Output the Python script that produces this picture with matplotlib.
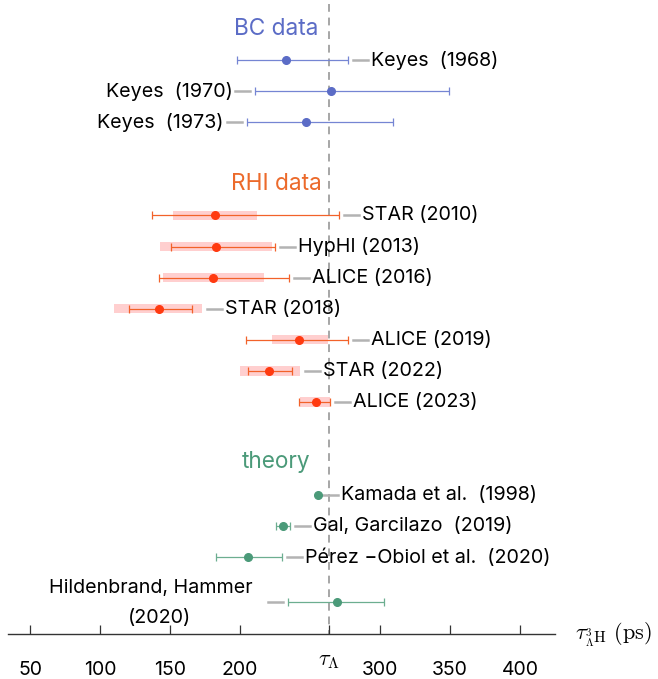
import numpy as np
import matplotlib

matplotlib.use("Agg")
import matplotlib.pyplot as plt

plt.rcParams["font.family"] = ["Inter", "DejaVu Sans"]
plt.rcParams["mathtext.fontset"] = "cm"

# Data (lifetimes in ps)
tau_lambda = 263.5

bc_labels = ["Keyes  (1968)", "Keyes  (1970)", "Keyes  (1973)"]
bc_tau = [233, 265, 247]
bc_lo = [198, 211, 205]
bc_hi = [277, 349, 309]
bc_rows = [1, 2, 3]
bc_side = ["right", "left", "left"]

rhi_labels = [
    "STAR (2010)",
    "HypHI (2013)",
    "ALICE (2016)",
    "STAR (2018)",
    "ALICE (2019)",
    "STAR (2022)",
    "ALICE (2023)",
]
rhi_tau = [182, 183, 181, 142, 242, 221, 254]
rhi_lo = [137, 151, 142, 121, 204, 206, 242]
rhi_hi = [271, 225, 235, 166, 277, 237, 264]
rhi_sys_lo = [152, 143, 145, 110, 223, 200, 243]
rhi_sys_hi = [212, 223, 217, 173, 263, 243, 264]
rhi_rows = [6, 7, 8, 9, 10, 11, 12]

th_labels = [
    "Kamada et al.  (1998)",
    "Gal, Garcilazo  (2019)",
    "Pérez \u2212Obiol et al.  (2020)",
    "Hildenbrand, Hammer",
]
th_tau = [256, 231, 206, 269]
th_lo = [256, 226, 183, 234]
th_hi = [256, 236, 230, 303]
th_rows = [15, 16, 17, 18.44]
th_side = ["right", "right", "right", "left"]

group_titles = ["BC data", "RHI data", "theory"]
group_rows = [0, 5, 13.93]

xticks = [50, 100, 150, 200, 300, 350, 400]

BLUE = "#5b6cc6"
BLUE_LINE = "#7585d3"
ORANGE = "#ec6a2b"
ORANGE_LINE = "#f2622a"
RED = "#ff3a10"
PINK = "#ffcfcf"
GREEN = "#4b9a79"
GREEN_LINE = "#6cae90"
GRAY = "#b3b3b3"

axis_row = 19.475
gap = 3.6  # ps between error bar and gray dash
dash = 10.7  # ps length of gray dash
LABEL_SIZE = 14.2


def draw_point(ax, tau, lo, hi, row, color, line_color, label, side, sys=None):
    if sys is not None:
        ax.barh(row, sys[1] - sys[0], left=sys[0], height=0.3, color=PINK, zorder=1)
    if hi > lo:
        ax.errorbar(
            tau,
            row,
            xerr=[[tau - lo], [hi - tau]],
            fmt="none",
            ecolor=line_color,
            elinewidth=0.9,
            capsize=3,
            capthick=0.9,
            zorder=2,
        )
    ax.plot(tau, row, "o", color=color, markersize=5.5, zorder=3)

    right = hi if sys is None else max(hi, sys[1])
    left = lo if sys is None else min(lo, sys[0])
    if side == "right":
        x0 = right + gap
        ax.plot([x0, x0 + dash], [row, row], color=GRAY, lw=1.8, zorder=2)
        ax.annotate(
            label,
            xy=(x0 + dash, row),
            xytext=(3, 0),
            textcoords="offset pixels",
            ha="left",
            va="center",
            fontsize=LABEL_SIZE,
        )
    else:
        x1 = left - gap
        ax.plot([x1 - dash, x1], [row, row], color=GRAY, lw=1.8, zorder=2)
        ax.annotate(
            label,
            xy=(x1 - dash, row),
            xytext=(-3, 0),
            textcoords="offset pixels",
            ha="right",
            va="center",
            fontsize=LABEL_SIZE,
        )


fig = plt.figure(figsize=(6.58, 6.79), dpi=100)
ax = fig.add_axes([0, 0, 1, 1])
ax.set_xlim(28.57, 498.57)
ax.set_ylim(20.913, -0.933)

# reference lifetime
ax.vlines(tau_lambda, -0.8, axis_row, colors="#a6a6a6", linestyles=(0, (4, 3)), lw=1.4, zorder=0)

for i in range(len(bc_tau)):
    draw_point(ax, bc_tau[i], bc_lo[i], bc_hi[i], bc_rows[i], BLUE, BLUE_LINE, bc_labels[i], bc_side[i])

for i in range(len(rhi_tau)):
    draw_point(
        ax,
        rhi_tau[i],
        rhi_lo[i],
        rhi_hi[i],
        rhi_rows[i],
        RED,
        ORANGE_LINE,
        rhi_labels[i],
        "right",
        sys=(rhi_sys_lo[i], rhi_sys_hi[i]),
    )

for i in range(len(th_tau)):
    if th_side[i] == "left":
        continue
    draw_point(ax, th_tau[i], th_lo[i], th_hi[i], th_rows[i], GREEN, GREEN_LINE, th_labels[i], th_side[i])

# Hildenbrand, Hammer: label sits on two lines above-left
i = 3
draw_point(ax, th_tau[i], th_lo[i], th_hi[i], th_rows[i], GREEN, GREEN_LINE, "", "left")
x_start = th_lo[i] - gap - dash
ax.annotate(th_labels[i], xy=(x_start, th_rows[i]), xytext=(-117, 14),
            textcoords="offset pixels", ha="center", va="center", fontsize=LABEL_SIZE)
ax.annotate("(2020)", xy=(x_start, th_rows[i]), xytext=(-108, -16),
            textcoords="offset pixels", ha="center", va="center", fontsize=LABEL_SIZE)

for title, row, color in zip(group_titles, group_rows, [BLUE, ORANGE, GREEN]):
    ax.text(226, row, title, ha="center", va="center", fontsize=16.3, color=color)

# axis
for s in ["top", "left", "right"]:
    ax.spines[s].set_visible(False)
ax.spines["bottom"].set_position(("data", axis_row))
ax.spines["bottom"].set_bounds(34.3, 425)
ax.spines["bottom"].set_color("#333333")
ax.spines["bottom"].set_linewidth(1.0)
ax.set_yticks([])
ax.set_xticks(xticks)
ax.set_xticklabels([str(t) for t in xticks])
ax.set_xticks([tau_lambda], minor=True)
ax.set_xticklabels([r"$\tau_\Lambda$"], minor=True)
ax.tick_params(axis="x", which="both", direction="in", length=6.5, width=0.9, color="#333333")
ax.tick_params(axis="x", which="major", pad=19, labelsize=14)
ax.tick_params(axis="x", which="minor", pad=12, labelsize=16)
ax.text(439, axis_row, r"$\tau_{{}^{3}_{\Lambda}\mathrm{H}}\ (\mathrm{ps})$",
        ha="left", va="center", fontsize=16)

plt.savefig("out.png", dpi=100)
